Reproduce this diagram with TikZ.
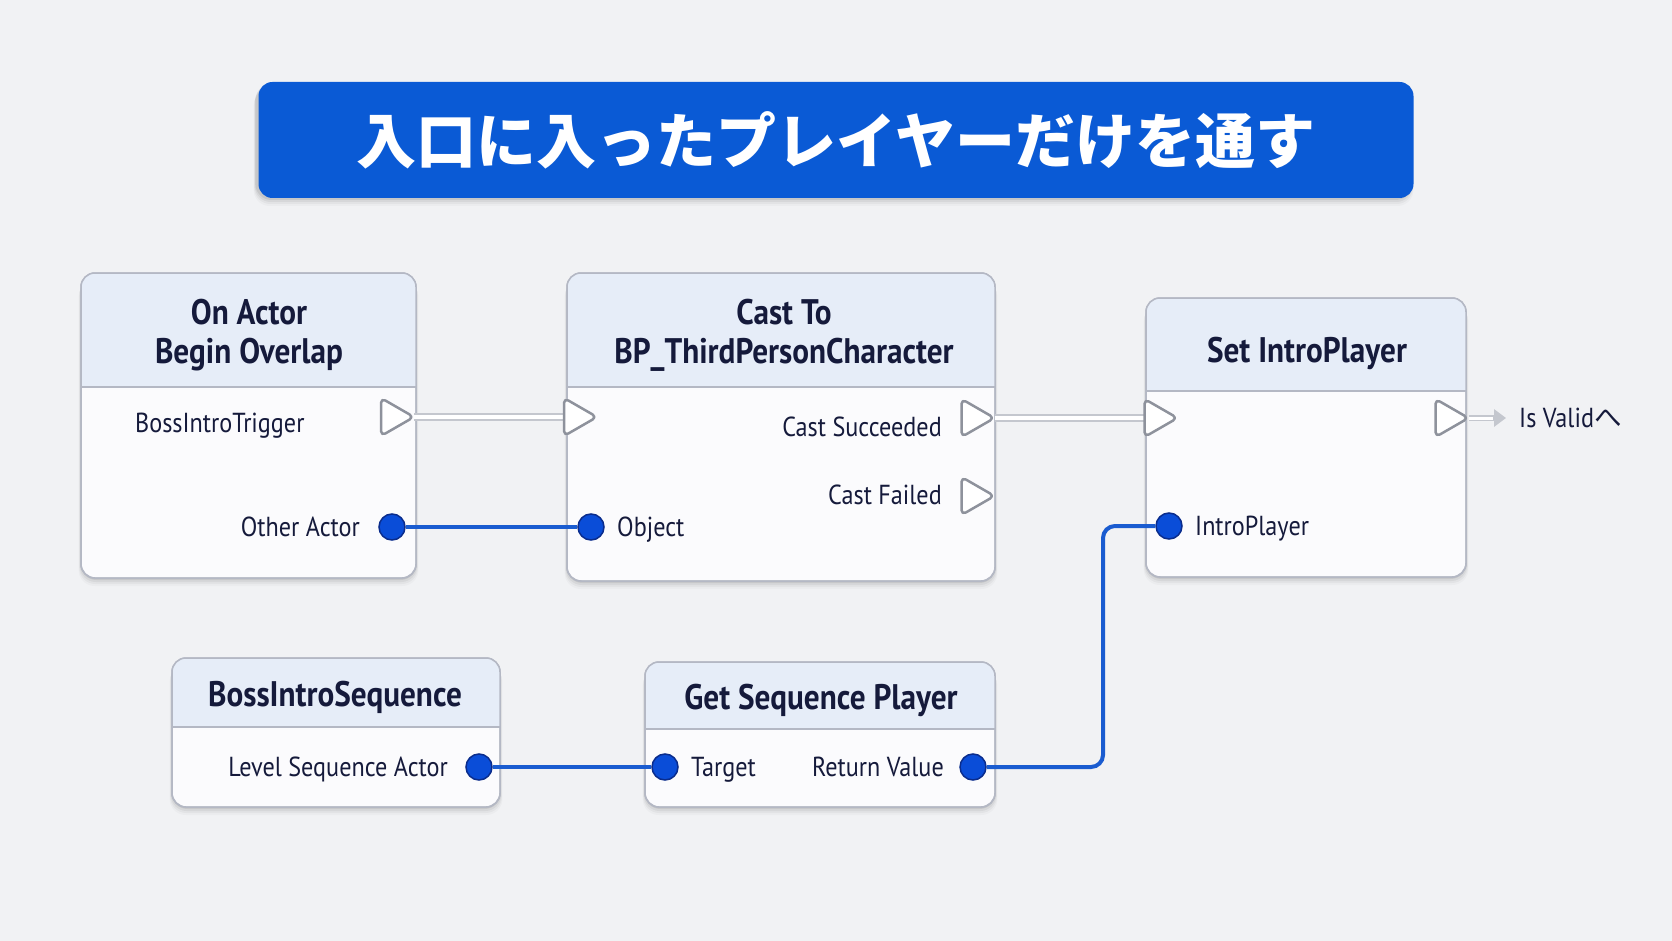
\documentclass[tikz,border=0pt]{standalone}
\usepackage{fontspec}
\setmainfont{PT Sans}[FakeStretch=0.88]
\newfontfamily\cjk{Noto Sans CJK JP}
\usetikzlibrary{arrows.meta,fit}
\definecolor{bgc}{HTML}{F1F2F4}
\definecolor{titlec}{HTML}{0A5AD5}
\definecolor{headc}{HTML}{E6EDF8}
\definecolor{bodyc}{HTML}{FBFBFD}
\definecolor{bordc}{HTML}{B4B8C4}
\definecolor{txtc}{HTML}{151A3B}
\definecolor{pinc}{HTML}{0A4DD8}
\definecolor{pinedge}{HTML}{0A2C8C}
\definecolor{wirec}{HTML}{1A5CD0}
\definecolor{trigray}{HTML}{8E929C}
\definecolor{execout}{HTML}{C4C7CE}
\tikzset{
 bpbody/.style={draw=bordc, line width=1.5pt, fill=bodyc, rounded corners=14pt, inner sep=0pt, outer sep=0pt},
 headtxt/.style={font=\bfseries\fontsize{35.5}{39}\selectfont, text=txtc, align=center, inner sep=0pt},
 lbl/.style={font=\fontsize{27.5}{32}\selectfont, text=txtc, inner sep=0pt, text height=19pt, text depth=0pt},
 datapin/.style={circle, fill=pinc, draw=pinedge, line width=1.5pt, minimum size=26pt, inner sep=0pt},
 execbox/.style={minimum width=33pt, minimum height=38pt, inner sep=0pt, outer sep=0pt},
 exectri/.style={draw=trigray, fill=white, line width=2.5pt, rounded corners=5pt, line join=round},
 datawire/.style={draw=wirec, line width=4pt},
 execouter/.style={draw=execout, line width=8pt},
 execinner/.style={draw=white, line width=4.5pt},
}
\newcommand\bpshadow[5]{%
  \foreach \o/\a in {8/0.025,6/0.035,4/0.05,2/0.07}{%
    \fill[black,opacity=\a,rounded corners=16pt] (#1-\o*0.3,#2+\o) rectangle (#3+\o*0.3,#4+\o);}%
}
\newcommand\bpnode[6]{%
  \bpshadow{#2}{#3}{#4}{#5}{}%
  \node[bpbody, fit={(#2,#3) (#4,#5)}] (#1) {};
  \fill[headc] (#2,#6) [rounded corners=14pt]-- (#2,#3) -- (#4,#3) [sharp corners]-- (#4,#6) -- cycle;
  \draw[bordc,line width=1.2pt] (#2,#6) -- (#4,#6);
  \draw[bordc,line width=1.5pt,rounded corners=14pt] (#2,#3) rectangle (#4,#5);
}
\newcommand\execnode[3]{\node[execbox] (#1) at (#2,#3) {};}
\newcommand\exectri[1]{\draw[exectri] (#1.north west) -- (#1.east) -- (#1.south west) -- cycle;}
\begin{document}
\begin{tikzpicture}[x=1pt,y=-1pt]
\fill[bgc] (0,0) rectangle (1672,941);
\useasboundingbox (0,0) rectangle (1672,941);

% title
\bpshadow{256}{82}{1411}{198}{}
\node[fill=titlec, rounded corners=14pt, minimum width=1155pt, minimum height=116pt, inner sep=0pt,
      text=white, font=\cjk\bfseries\fontsize{60}{70}\selectfont] (title) at (836,140) {入口に入ったプレイヤーだけを通す};

% node boxes
\bpnode{overlap}{81}{273}{416}{578}{387}
\bpnode{cast}{567}{273}{995}{581}{387}
\bpnode{setip}{1146}{298}{1466}{577}{391}
\bpnode{seq}{172}{658}{500}{807}{727}
\bpnode{getsp}{645}{662}{995}{807}{729}

% header texts
\node[headtxt] (overlapT) at (249,335) {On Actor\\Begin Overlap};
\node[headtxt] (castT) at (784,335) {Cast To\\BP\_ThirdPersonCharacter};
\node[headtxt] (setipT) at (1307,353) {Set IntroPlayer};
\node[headtxt] (seqT) at (335,697) {BossIntroSequence};
\node[headtxt] (getspT) at (821,700) {Get Sequence Player};

% labels
\node[lbl, anchor=west] (lTrig) at (135,423) {BossIntroTrigger};
\node[lbl, anchor=east] (lOther) at (360,527) {Other Actor};
\node[lbl, anchor=west] (lObj) at (617,527) {Object};
\node[lbl, anchor=east] (lSucc) at (942,427) {Cast Succeeded};
\node[lbl, anchor=east] (lFail) at (942,495) {Cast Failed};
\node[lbl, anchor=west] (lIP) at (1195,526) {IntroPlayer};
\node[lbl, anchor=west] (isvalid) at (1519,418) {Is Valid{\cjk へ}};
\node[lbl, anchor=east] (lLSA) at (448,767) {Level Sequence Actor};
\node[lbl, anchor=west] (lTgt) at (691,767) {Target};
\node[lbl, anchor=east] (lRV) at (944,767) {Return Value};

% exec pins
\execnode{n1out}{397.5}{417}
\execnode{n2in}{580.5}{417}
\execnode{castS}{978}{418}
\execnode{castF}{978}{496}
\execnode{n3in}{1161}{418}
\execnode{n3out}{1452}{418}

% exec wires
\draw[execouter] (n1out.east) -- (n2in.west);
\draw[execinner] (n1out.east) -- (n2in.west);
\draw[execouter] (castS.east) -- (n3in.west);
\draw[execinner] (castS.east) -- (n3in.west);
\draw[draw=execout, line width=6pt, -{Triangle[length=12pt,width=17pt]}] (n3out.east) -- ([xshift=-13pt]isvalid.west);
\draw[draw=white, line width=3pt] (n3out.east) -- ([xshift=-26pt]isvalid.west);

\exectri{n1out}
\exectri{n2in}
\exectri{castS}
\exectri{castF}
\exectri{n3in}
\exectri{n3out}

% data pins
\node[datapin] (oa) at (392,527) {};
\node[datapin] (obj) at (591,527) {};
\node[datapin] (ip) at (1169,526) {};
\node[datapin] (lsa) at (479,767) {};
\node[datapin] (tgt) at (665,767) {};
\node[datapin] (rv) at (973,767) {};

% data wires
\draw[datawire] (oa.east) -- (obj.west);
\draw[datawire] (lsa.east) -- (tgt.west);
\draw[datawire, rounded corners=12pt] (rv.east) -- (1103,767) -- (1103,526) -- (ip.west);
\end{tikzpicture}
\end{document}
